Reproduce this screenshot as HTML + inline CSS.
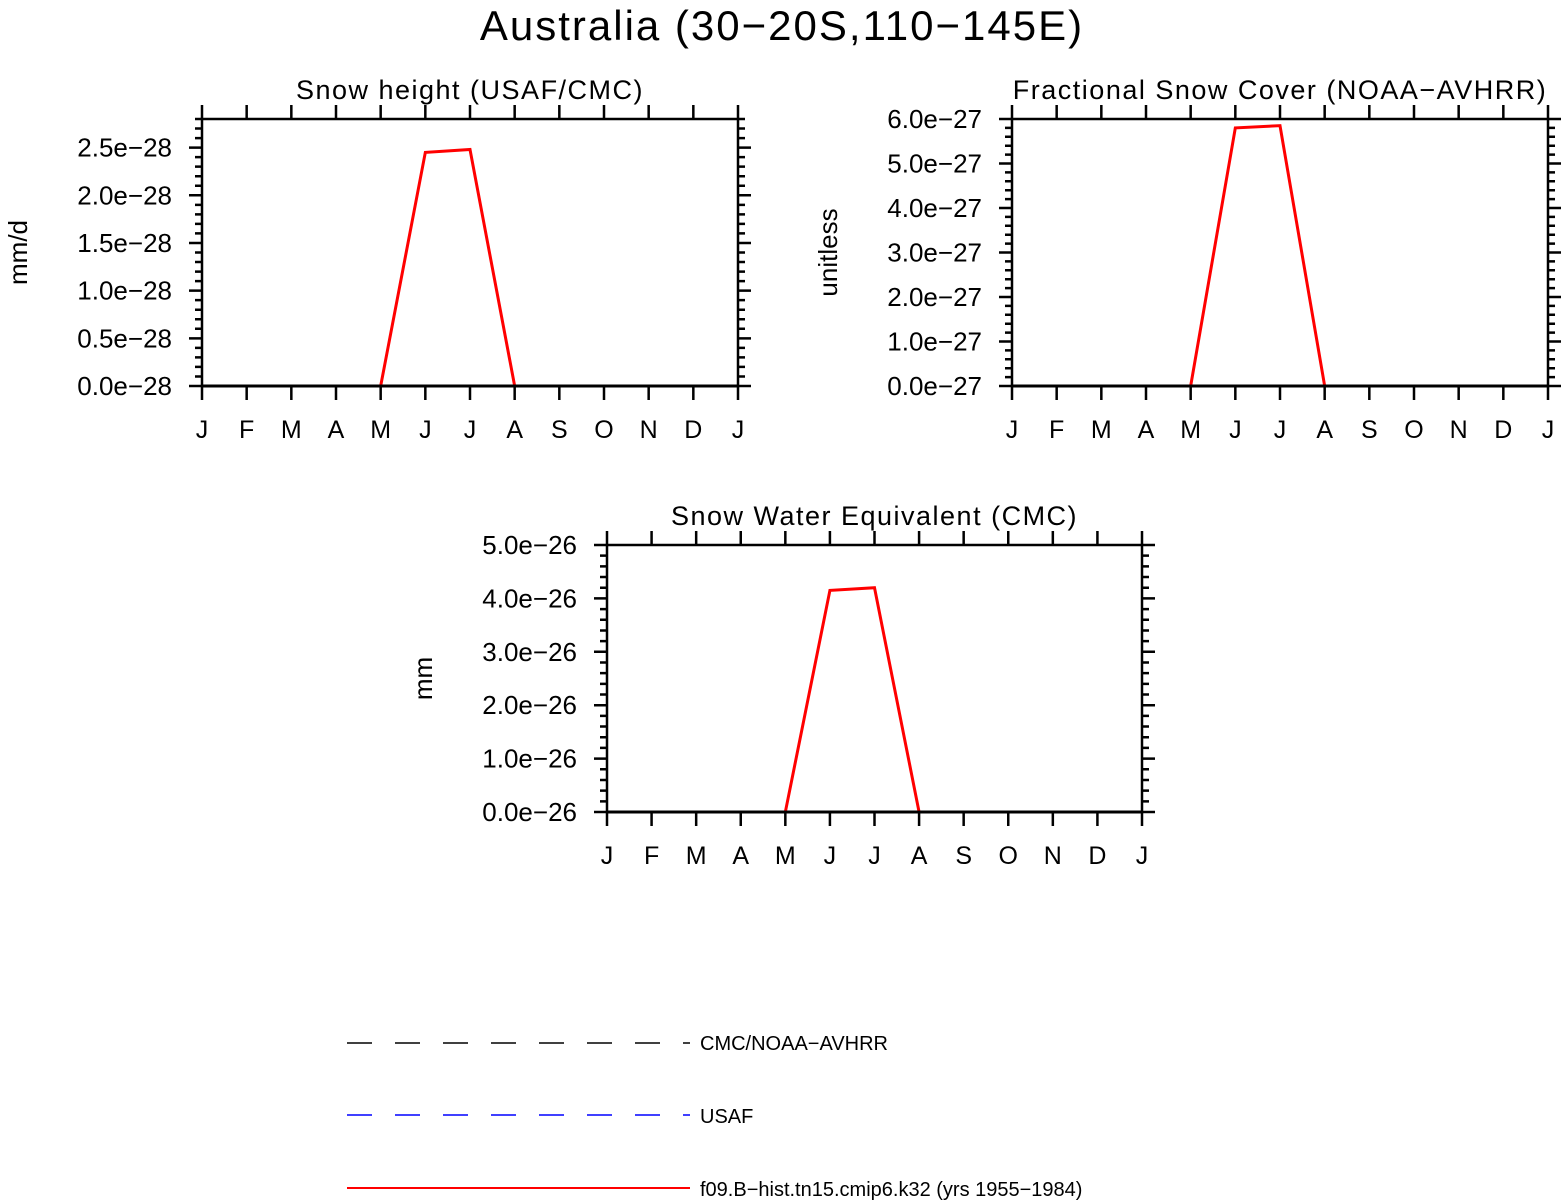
<!DOCTYPE html>
<html><head><meta charset="utf-8"><style>
body{margin:0;background:#fff}
svg{display:block;font-family:"Liberation Sans",sans-serif}
</style></head><body>
<svg id="c" width="1565" height="1201" viewBox="0 0 1565 1201" xmlns="http://www.w3.org/2000/svg">
<text x="782" y="40" font-size="42" text-anchor="middle" letter-spacing="2">Australia (30−20S,110−145E)</text>
<g id="plots"></g>
<g>
<line x1="347" y1="1043" x2="690" y2="1043" stroke="#000" stroke-width="1.5" stroke-dasharray="25,23"/>
<text x="700" y="1050" font-size="20">CMC/NOAA−AVHRR</text>
<line x1="347" y1="1115" x2="690" y2="1115" stroke="#0000ff" stroke-width="1.5" stroke-dasharray="25,23"/>
<text x="700" y="1123" font-size="20">USAF</text>
<line x1="347" y1="1188" x2="690" y2="1188" stroke="#ff0000" stroke-width="2"/>
<text x="700" y="1196" font-size="20">f09.B−hist.tn15.cmip6.k32 (yrs 1955−1984)</text>
</g>
</svg>
<script>
const months = ["J","F","M","A","M","J","J","A","S","O","N","D","J"];
const snowHeight = [0,0,0,0,0,2.45,2.48,0,0,0,0,0,0];
const snowCover = [0,0,0,0,0,5.8,5.85,0,0,0,0,0,0];
const swe = [0,0,0,0,0,4.15,4.2,0,0,0,0,0,0];
const obsZero = [0,0,0,0,0,0,0,0,0,0,0,0,0];
const ticks1 = ["0.0e−28","0.5e−28","1.0e−28","1.5e−28","2.0e−28","2.5e−28"];
const ticks2 = ["0.0e−27","1.0e−27","2.0e−27","3.0e−27","4.0e−27","5.0e−27","6.0e−27"];
const ticks3 = ["0.0e−26","1.0e−26","2.0e−26","3.0e−26","4.0e−26","5.0e−26"];

const NS="http://www.w3.org/2000/svg";
const root=document.getElementById('plots');
function mk(tag,attrs,parent){const e=document.createElementNS(NS,tag);for(const k in attrs)e.setAttribute(k,attrs[k]);parent.appendChild(e);return e;}

const panels=[
 {name:"snow-height",title:"Snow height (USAF/CMC)",unit:"mm/d",x0:202,x1:738,y0:386,y1:119,ymax:2.8,major:0.5,minor:0.1,ticks:ticks1,data:snowHeight},
 {name:"snow-cover",title:"Fractional Snow Cover (NOAA−AVHRR)",unit:"unitless",x0:1012,x1:1548,y0:386,y1:119,ymax:6.0,major:1.0,minor:0.2,ticks:ticks2,data:snowCover},
 {name:"swe",title:"Snow Water Equivalent (CMC)",unit:"mm",x0:607,x1:1142,y0:812,y1:545,ymax:5.0,major:1.0,minor:0.2,ticks:ticks3,data:swe}
];
panels.forEach(p=>{
 const g=mk('g',{},root);
 
 
 const xs=i=>p.x0+(p.x1-p.x0)*i/(months.length-1);
 const ys=v=>p.y0-(p.y0-p.y1)*v/p.ymax;
 const t=mk('text',{x:(p.x0+p.x1)/2,y:p.y1-20,'font-size':27,'text-anchor':'middle','letter-spacing':1.5},g);
 t.textContent=p.title;
 
 
 // ticks
 let d="";
 months.forEach((m,i)=>{const x=xs(i);d+=`M${x} ${p.y1}V${p.y1-14}M${x} ${p.y0}V${p.y0+14}`;
  const lt=mk('text',{x:x,y:p.y0+52,'font-size':25,'text-anchor':'middle'},g);lt.textContent=m;
  
  });
 const nmin=Math.round(p.ymax/p.minor);
 const per=Math.round(p.major/p.minor);
 for(let k=0;k<=nmin;k++){const y=ys(k*p.minor);const L=(k%per==0)?13:7;d+=`M${p.x0} ${y}H${p.x0-L}M${p.x1} ${y}H${p.x1+L}`;}
 const tk=mk('path',{d:d,stroke:'#000','stroke-width':2.5,fill:'none'},g);
 
 
 p.ticks.forEach((s,i)=>{const lt=mk('text',{x:p.x0-30,y:ys(i*p.major)+9,'font-size':26,'text-anchor':'end'},g);lt.textContent=s;
  
  });
 const yl=mk('text',{transform:`translate(${p.x0-175},${(p.y0+p.y1)/2}) rotate(-90)`,'font-size':26,'text-anchor':'middle'},g);
 yl.textContent=p.unit;
 
 
 // obs lines
 const op=obsZero.map((v,i)=>`${i?'L':'M'}${xs(i)} ${ys(v)}`).join('');
 const ob=mk('path',{d:op,stroke:'#0000ff','stroke-width':1.5,'stroke-dasharray':'12,8',fill:'none'},g);
 
 
 const path=p.data.map((v,i)=>`${i?'L':'M'}${xs(i)} ${ys(v)}`).join('');
 const ln=mk('path',{d:path,stroke:'#ff0000','stroke-width':3,fill:'none','stroke-linejoin':'miter'},g);
 
 
 const fr=mk('rect',{x:p.x0,y:p.y1,width:p.x1-p.x0,height:p.y0-p.y1,fill:'none',stroke:'#000','stroke-width':2.5},g);
 
 
 const zl=mk('path',{d:`M${p.x0} ${p.y0}H${p.x1}`,stroke:'#000','stroke-width':3},g);
 
 
});
</script>
</body></html>
